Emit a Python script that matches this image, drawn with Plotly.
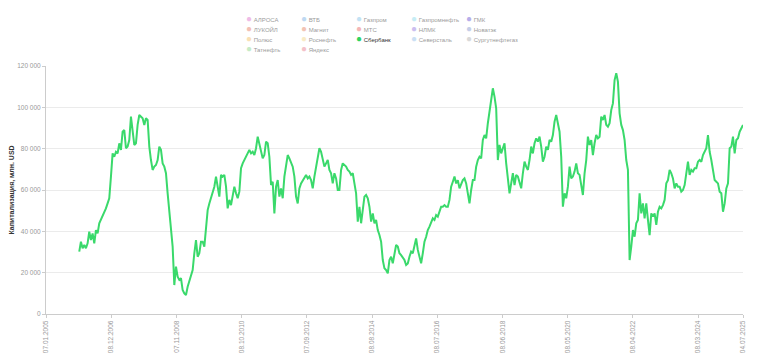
import pandas as pd
import plotly.graph_objects as go

# Sberbank market capitalisation, mln USD (~18-day steps)
start_date = "2005-12-30"
end_date = "2025-07-04"
sber_values = [
    30200, 35000, 31800, 33400, 31800, 34200, 39800, 35800, 39000, 34200,
    40600, 39000, 43900, 45500, 47100, 49500, 51100, 53500, 56000, 66500,
    77700, 76100, 78500, 77700, 82600, 79400, 88200, 89000, 80200, 81000,
    84200, 95500, 89000, 81800, 82600, 91500, 96300, 95500, 94700, 91500,
    94700, 93900, 81000, 74500, 69700, 71300, 72100, 74500, 81000, 79400,
    72900, 71300, 68100, 58400, 50300, 39000, 32600, 14000, 22900, 18100,
    16500, 17300, 11600, 10000, 9200, 13200, 15600, 18900, 21300, 29400,
    35800, 27700, 29400, 35000, 35000,
    # 2009 - 2012
    32600, 43900, 50300, 53500, 56000, 58400, 61600, 66500, 62400, 56800,
    67300, 66500, 67300, 61600, 51100, 55200, 52700, 58400, 61600, 58400,
    56000, 59200, 70500, 72900, 74500, 76100, 77700, 79400, 77700, 78500,
    76900, 80200, 85800, 81800, 78500, 75300, 76900, 83400, 82600, 76100,
    62400, 64000, 48700, 61600, 64800, 56800, 60800, 56000, 66500, 71300,
    76900, 75300, 72900, 71300, 66500, 56800, 53500, 60800, 63200, 64800,
    66500, 67300, 65600, 66500, 64800, 60800, 66500, 71300, 74500, 80200,
    78500, 74500, 71300, 72900, 74500, 69700, 68100, 63200, 68100, 65600,
    60000,
    # 2013 - 2017
    60000, 69700, 72900, 72100, 71300, 69700, 68900, 67300, 68100, 63200,
    58400, 44700, 51900, 43900, 51100, 56800, 57600, 56000, 51900, 44700,
    48700, 43900, 45500, 40600, 38200, 35000, 26100, 22100, 21300, 19700,
    26100, 27700, 24500, 29400, 33400, 32600, 29400, 28500, 26900, 26100,
    23700, 24500, 27700, 30200, 29400, 32600, 36600, 31000, 27700, 24500,
    29400, 35000, 37400, 40600, 42300, 43900, 46300, 45500, 47900, 47100,
    49500, 51900, 51900, 52700, 51900, 51900, 55200, 61600, 64000, 66500,
    63200, 64800, 60800, 63200, 64800, 65600, 63200, 58400, 53500, 60000,
    64800,
    # 2017 - 2021
    64800, 71300, 74500, 76100, 75300, 84200, 86600, 85000, 92300, 98700,
    105200, 109200, 105200, 99500, 74500, 81800, 77700, 80200, 82600, 72900,
    64800, 58400, 63200, 68100, 62400, 67300, 66500, 63200, 60800, 68100,
    73700, 71300, 69700, 74500, 81000, 77700, 82600, 85000, 83400, 85800,
    81000, 73700, 76100, 81000, 79400, 84200, 83400, 86600, 93100, 96300,
    92300, 88200, 76100, 51900, 58400, 56000, 61600, 71300, 65600, 66500,
    68900, 72900, 68100, 67300, 62400, 57600, 68100, 74500, 85800, 81800,
    84200, 76900, 82600, 86600, 85000, 85800, 95500, 93900, 96300, 91500,
    90600,
    # 2021 - 2025
    92300, 98700, 101900, 113200, 116500, 112400, 97100, 91500, 89000, 84200,
    74500, 69700, 26100, 32600, 40600, 37400, 43900, 45500, 58400, 48700,
    53500, 46300, 53500, 45500, 38200, 48700, 47100, 48700, 43100, 49500,
    51900, 51100, 52700, 55200, 63200, 64800, 69700, 68100, 65600, 60800,
    63200, 61600, 61600, 59200, 60000, 62400, 68100, 73700, 67300, 69700,
    68900, 70500, 70500, 73700, 74500, 73700, 76900, 78500, 80200, 86600,
    78500, 74500, 69700, 64800, 64000, 63200, 59200, 58400, 49500, 53500,
    60800, 63200, 80200, 81000, 85800, 77700, 84200, 85000, 88200, 89800,
    91500,
]
sber_dates = pd.date_range(start=start_date, end=end_date, periods=len(sber_values))

tick_dates = ["2005-01-07", "2006-12-08", "2008-11-07", "2010-10-08", "2012-09-07",
              "2014-08-08", "2016-07-08", "2018-06-08", "2020-05-08", "2022-04-08",
              "2024-03-08", "2025-07-04"]
tick_labels = ["07.01.2005", "08.12.2006", "07.11.2008", "08.10.2010", "07.09.2012",
               "08.08.2014", "08.07.2016", "08.06.2018", "08.05.2020", "08.04.2022",
               "08.03.2024", "04.07.2025"]
y_ticks = [0, 20000, 40000, 60000, 80000, 100000, 120000]
y_tick_labels = ["0", "20 000", "40 000", "60 000", "80 000", "100 000", "120 000"]

legend_rows = [
    ["АЛРОСА", "ВТБ", "Газпром", "Газпромнефть", "ГМК"],
    ["ЛУКОЙЛ", "Магнит", "МТС", "НЛМК", "Новатэк"],
    ["Полюс", "Роснефть", "Сбербанк", "Северсталь", "Сургутнефтегаз"],
    ["Татнефть", "Яндекс"],
]
legend_colors = {
    "АЛРОСА": "#e07ad0", "ВТБ": "#7fb4e6", "Газпром": "#86c6ea", "Газпромнефть": "#8fdcec",
    "ГМК": "#6f5fd6", "ЛУКОЙЛ": "#e8826c", "Магнит": "#e88a6c", "МТС": "#ea7070",
    "НЛМК": "#9a80e2", "Новатэк": "#8c9ed2", "Полюс": "#f5c26c", "Роснефть": "#f5d88c",
    "Сбербанк": "#2fd35f", "Северсталь": "#98c2ea", "Сургутнефтегаз": "#b4b4b4",
    "Татнефть": "#8ed88e", "Яндекс": "#ea8494",
}
active = "Сбербанк"
line_color = "#3ad96b"
FONT = "Liberation Sans, Arial, sans-serif"

# layout geometry (pixels)
W, H = 758, 357
M_L, M_R, M_T, M_B = 46, 15, 66, 43
plot_w = W - M_L - M_R
plot_h = H - M_T - M_B
col_dot_px = [249, 304, 359, 414, 469]
row_px = [19.5, 29.5, 39.5, 49.5]

fig = go.Figure()
fig.add_trace(go.Scatter(
    x=sber_dates, y=sber_values, mode="lines", name=active,
    line=dict(color=line_color, width=2), legendgroup=active, showlegend=False,
    hovertemplate="%{x|%d.%m.%Y}: %{y:,.0f}<extra>Сбербанк</extra>",
))

layout_legends = {}
n = 0
for r, row in enumerate(legend_rows):
    for c, name in enumerate(row):
        n += 1
        lg = "legend" if n == 1 else f"legend{n}"
        label = (f'<span style="color:{legend_colors[name]};font-size:10px">●</span> '
                 f'{name}')
        fig.add_trace(go.Scatter(
            x=[None], y=[None], mode="markers", name=label,
            marker=dict(color="rgba(0,0,0,0)", size=1),
            legendgroup=name, legend=lg,
            visible=True if name == active else "legendonly",
        ))
        layout_legends[lg] = dict(
            orientation="h",
            x=(col_dot_px[c] - 43 - M_L) / plot_w, xanchor="left",
            y=(H - M_B - row_px[r]) / plot_h, yanchor="middle",
            itemwidth=30,
            font=dict(size=6, color="#333", family=FONT),
            bgcolor="rgba(0,0,0,0)", borderwidth=0,
        )

fig.update_layout(
    width=W, height=H,
    margin=dict(l=M_L, r=M_R, t=M_T, b=M_B, autoexpand=False),
    paper_bgcolor="white", plot_bgcolor="white",
    font=dict(family=FONT, size=7, color="#999"),
    showlegend=True,
    **layout_legends,
)
fig.update_xaxes(
    type="date", range=[tick_dates[0], tick_dates[-1]],
    tickmode="array", tickvals=tick_dates, ticktext=tick_labels,
    tickangle=-90, tickfont=dict(size=6.5, color="#999"),
    showgrid=False, showline=True, linecolor="#cccccc", linewidth=1,
    ticks="outside", ticklen=3, tickcolor="#cccccc", zeroline=False,
    automargin=False,
)
fig.update_yaxes(
    range=[0, 120000], tickmode="array", tickvals=y_ticks, ticktext=y_tick_labels,
    tickfont=dict(size=6.5, color="#999"),
    showgrid=True, gridcolor="#ebebeb", gridwidth=1,
    showline=True, linecolor="#cccccc", linewidth=1,
    ticks="outside", ticklen=3, tickcolor="#cccccc", zeroline=False,
    automargin=False,
    title=dict(text="<b>Капитализация, млн. USD</b>", standoff=1,
               font=dict(size=7, color="#333", family=FONT)),
)

fig.write_html(
    "out.html",
    config={"displayModeBar": False},
    post_script="document.body.style.margin='0';document.body.style.overflow='hidden';",
)
